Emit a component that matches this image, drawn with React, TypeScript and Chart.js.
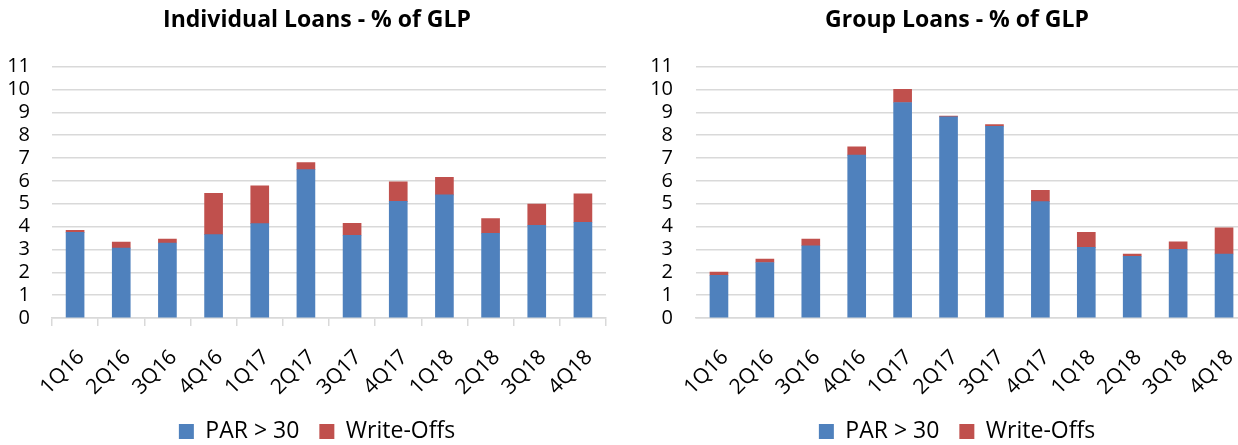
import React, { useEffect, useRef } from "react";
import { Chart, registerables } from "chart.js";

Chart.register(...registerables);

const quarters = ["1Q16", "2Q16", "3Q16", "4Q16", "1Q17", "2Q17", "3Q17", "4Q17", "1Q18", "2Q18", "3Q18", "4Q18"];
const yTicks = [0, 1, 2, 3, 4, 5, 6, 7, 8, 9, 10, 11];

const individualPar = [3.75, 3.06, 3.28, 3.65, 4.13, 6.49, 3.62, 5.10, 5.39, 3.71, 4.06, 4.19];
const individualWriteOffs = [0.09, 0.26, 0.17, 1.81, 1.65, 0.31, 0.52, 0.86, 0.77, 0.64, 0.93, 1.24];

const groupPar = [1.87, 2.43, 3.16, 7.13, 9.43, 8.80, 8.39, 5.09, 3.09, 2.70, 3.00, 2.80];
const groupWriteOffs = [0.14, 0.15, 0.29, 0.36, 0.57, 0.04, 0.07, 0.50, 0.66, 0.10, 0.33, 1.14];

const seriesNames = ["PAR > 30", "Write-Offs"];
const titles = ["Individual Loans - % of GLP", "Group Loans - % of GLP"];

const FONT = "'Open Sans', 'Noto Sans', sans-serif";
const BLUE = "#4f81bd";
const RED = "#c0504d";
const GRID = "#d9d9d9";

type Layout = {
  rightSpace: number;
  yWidth: number;
  yPad: number;
  xHeight: number;
  xTicks: boolean;
  xPad: number;
};

function buildConfig(title: string, par: number[], wo: number[], lay: Layout): any {
  return {
    type: "bar",
    data: {
      labels: quarters,
      datasets: [
        { label: seriesNames[0], data: par, backgroundColor: BLUE, borderWidth: 0, barThickness: 18 },
        { label: seriesNames[1], data: wo, backgroundColor: RED, borderWidth: 0, barThickness: 18 },
      ],
    },
    options: {
      responsive: false,
      animation: false,
      devicePixelRatio: 1,
      layout: { padding: 0 },
      plugins: {
        title: {
          display: true,
          text: title,
          color: "#000",
          font: { family: FONT, size: 23, weight: "bold", lineHeight: 1.2 },
          padding: { top: 7, bottom: 32 },
        },
        legend: {
          display: true,
          position: "bottom",
          labels: {
            color: "#000",
            font: { family: FONT, size: 23 },
            boxWidth: 15,
            boxHeight: 15,
            padding: 20,
          },
        },
        tooltip: { enabled: false },
      },
      scales: {
        x: {
          stacked: true,
          offset: true,
          grid: {
            display: lay.xTicks,
            drawOnChartArea: false,
            drawTicks: lay.xTicks,
            tickLength: 8,
            color: GRID,
            lineWidth: 1.5,
            offset: true,
          },
          border: { display: true, color: GRID, width: 1.5 },
          ticks: {
            color: "#000",
            font: { family: FONT, size: 21 },
            minRotation: 45,
            maxRotation: 45,
            autoSkip: false,
            padding: lay.xPad,
            labelOffset: 6,
          },
          afterFit: (s: any) => {
            s.height = lay.xHeight;
          },
        },
        y: {
          stacked: true,
          min: yTicks[0],
          max: yTicks[yTicks.length - 1],
          grid: { color: GRID, lineWidth: 1.5, drawTicks: false },
          border: { display: false },
          ticks: {
            stepSize: 1,
            autoSkip: false,
            color: "#000",
            font: { family: FONT, size: 20 },
            padding: lay.yPad,
          },
          afterFit: (s: any) => {
            s.width = lay.yWidth;
          },
        },
        ySpace: {
          position: "right",
          display: true,
          grid: { display: false, drawTicks: false },
          border: { display: false },
          ticks: { display: false },
          afterFit: (s: any) => {
            s.width = lay.rightSpace;
          },
        },
      },
    },
  };
}

function BarChart(props: { title: string; par: number[]; wo: number[]; width: number; height: number; lay: Layout }) {
  const ref = useRef<HTMLCanvasElement | null>(null);
  useEffect(() => {
    if (!ref.current) return;
    const chart = new Chart(ref.current, buildConfig(props.title, props.par, props.wo, props.lay));
    return () => chart.destroy();
  }, []);
  return <canvas ref={ref} width={props.width} height={props.height} style={{ display: "block" }} />;
}

export default function App() {
  return (
    <div
      style={{
        position: "fixed",
        left: 0,
        top: 0,
        width: 1238,
        height: 445,
        overflow: "hidden",
        background: "#fff",
      }}
    >
      <div style={{ position: "absolute", left: 0, top: 0 }}>
        <BarChart
          title={titles[0]}
          par={individualPar}
          wo={individualWriteOffs}
          width={634}
          height={453}
          lay={{ rightSpace: 28, yWidth: 52, yPad: 22, xHeight: 82, xTicks: true, xPad: 19 }}
        />
      </div>
      <div style={{ position: "absolute", left: 620, top: 0 }}>
        <BarChart
          title={titles[1]}
          par={groupPar}
          wo={groupWriteOffs}
          width={674}
          height={453}
          lay={{ rightSpace: 47, yWidth: 76, yPad: 23, xHeight: 82, xTicks: false, xPad: 27 }}
        />
      </div>
    </div>
  );
}
